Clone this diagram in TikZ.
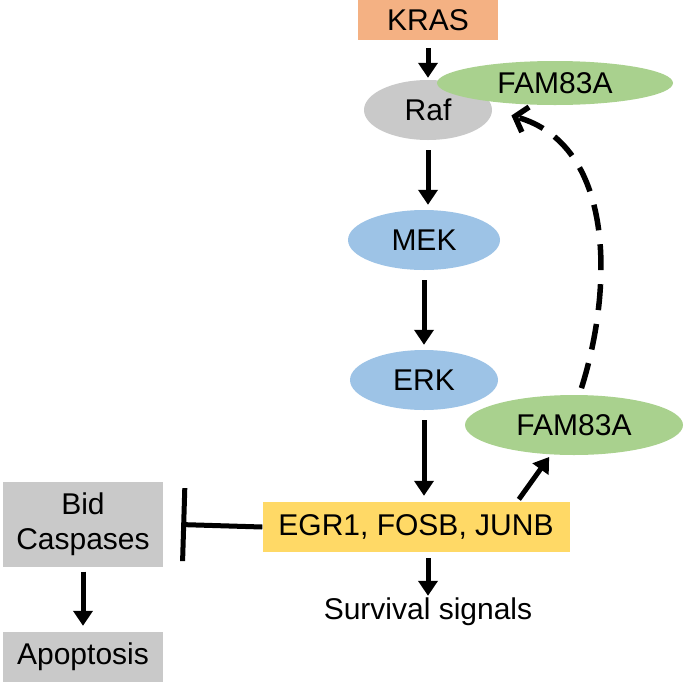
\documentclass[tikz,border=0pt]{standalone}
\usepackage{fontspec}
\setmainfont{Liberation Sans}
\usetikzlibrary{shapes.geometric,arrows.meta}

\definecolor{krasorange}{HTML}{F4B183}
\definecolor{rafgray}{HTML}{C9C9C9}
\definecolor{kinaseblue}{HTML}{9DC3E6}
\definecolor{famgreen}{HTML}{A9D18E}
\definecolor{tfyellow}{HTML}{FFD966}

\tikzset{
    every node/.style={font=\fontsize{30}{35}\selectfont, inner sep=0pt},
    boxnode/.style={rectangle, align=center},
    ovalnode/.style={ellipse},
    activ/.style={draw, line width=5pt, -{Triangle[length=15pt,width=19pt]}},
    inhib/.style={draw, line width=5pt, -{Bar[width=73pt]}},
    feedback/.style={draw, line width=5.5pt, dash pattern=on 26pt off 14pt,
        -{Straight Barb[length=11pt,width=26pt]}}
}

\begin{document}
\begin{tikzpicture}[x=1pt,y=-1pt]
    \useasboundingbox (0,0) rectangle (685,683);

    \begin{scope}[every node/.append style={minimum height=60pt}]
        \node[boxnode, fill=krasorange, minimum width=140pt, minimum height=40pt] (kras) at (428,20) {KRAS};
        \node[ovalnode, fill=rafgray, minimum width=128pt] (raf) at (428,110) {Raf};
        \node[ovalnode, fill=famgreen, minimum width=236pt, minimum height=44pt] (famtop) at (555,83) {FAM83A};
        \node[ovalnode, fill=kinaseblue, minimum width=152pt] (mek) at (424,240) {MEK};
        \node[ovalnode, fill=kinaseblue, minimum width=148pt] (erk) at (424,380) {ERK};
        \node[ovalnode, fill=famgreen, minimum width=218pt] (fambot) at (574,425) {FAM83A};
        \node[boxnode, fill=tfyellow, minimum width=307pt, minimum height=50pt] (egr) at (416,527) {EGR1, FOSB, JUNB};
        \node[boxnode, fill=rafgray, minimum width=160pt, minimum height=85pt] (bid) at (83,524) {Bid\\Caspases};
        \node[boxnode, fill=rafgray, minimum width=160pt, minimum height=50pt] (apop) at (83,657) {Apoptosis};
        \node[minimum height=0pt] (surv) at (428,612) {Survival signals};
    \end{scope}

    % activating arrows
    \draw[activ, shorten <=8pt, shorten >=2pt] (kras.south) -- (raf.north);
    \draw[activ, shorten <=10pt, shorten >=5pt] (raf.south) -- (raf.south |- mek.north);
    \draw[activ, shorten <=10pt, shorten >=5pt] (mek.south) -- (erk.north);
    \draw[activ, shorten <=10pt, shorten >=6pt] (erk.south) -- (erk.south |- egr.north);
    \draw[activ, shorten <=6pt, shorten >=2pt] (egr.south -| surv.north) -- (surv.north);
    \draw[activ, shorten <=3pt, shorten >=3pt] (egr.14) -- (fambot.232);
    \draw[activ, shorten <=5pt, shorten >=6pt] (bid.south) -- (apop.north);

    % inhibition and feedback
    \draw[inhib, shorten >=18pt] (egr.west) -- (bid.east);
    \draw[feedback, shorten <=7pt, shorten >=20pt] (fambot.80) .. controls (614,285) and (614,145) .. (raf.east);
\end{tikzpicture}
\end{document}
